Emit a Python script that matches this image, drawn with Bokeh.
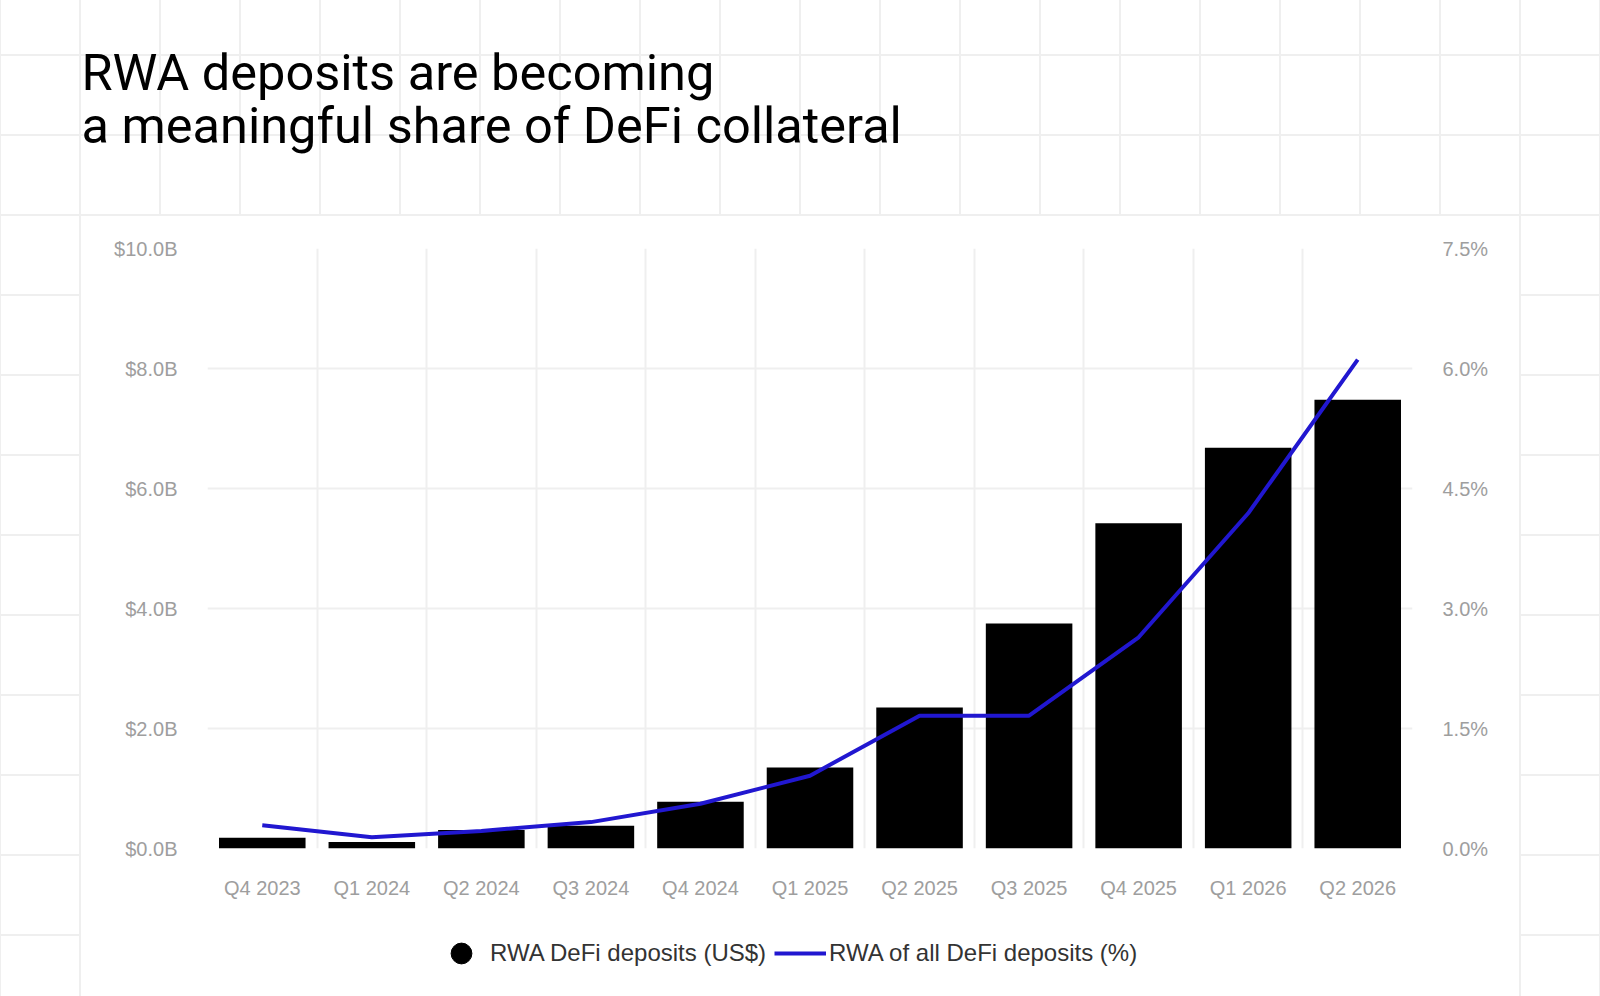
import numpy as np
from bokeh.plotting import figure
from bokeh.layouts import column
from bokeh.models import (Range1d, LinearAxis, FixedTicker, PrintfTickFormatter,
                          Legend, LegendItem)
from bokeh.core.properties import value
from bokeh.embed import file_html
from bokeh.resources import INLINE

# ---------------- data ----------------
quarters = ["Q4 2023", "Q1 2024", "Q2 2024", "Q3 2024", "Q4 2024", "Q1 2025",
            "Q2 2025", "Q3 2025", "Q4 2025", "Q1 2026", "Q2 2026"]
deposits_bn = [0.18, 0.11, 0.31, 0.38, 0.78, 1.35, 2.35, 3.75, 5.42, 6.68, 7.48]
share_pct = [0.29, 0.14, 0.22, 0.33, 0.56, 0.91, 1.66, 1.66, 2.64, 4.19, 6.11]
left_ticks = [0, 2, 4, 6, 8, 10]
right_ticks = [0, 1.5, 3, 4.5, 6, 7.5]
title_lines = ["RWA deposits are becoming", "a meaningful share of DeFi collateral"]
legend_labels = ["RWA DeFi deposits (US$)", "RWA of all DeFi deposits (%)"]

# ---------------- layout constants ----------------
W = 1600
HEAD_H, CHART_H, FOOT_H = 216, 688, 92
GRID = "#efefef"
BLUE = "#2117d0"
n = len(quarters)
xs = np.arange(n) + 0.5


def grid_bg(y_off, card):
    layers = []
    if card:
        layers.append("linear-gradient(#ffffff,#ffffff) 81px 0px / 1438px 100% no-repeat")
    layers.append("linear-gradient(to right, %s 2px, transparent 2px) 79px 0px / 80px 80px" % GRID)
    layers.append("linear-gradient(to bottom, %s 2px, transparent 2px) 0px %dpx / 80px 80px" % (GRID, y_off))
    return ", ".join(layers) + ", #ffffff"


def bare(fig):
    fig.border_fill_color = None
    fig.background_fill_color = None
    fig.outline_line_color = None


# ---------------- head (title) ----------------
head = figure(width=W, height=HEAD_H, output_backend="svg", toolbar_location=None,
              title=None, x_range=Range1d(0, W), y_range=Range1d(HEAD_H, 0),
              x_axis_location=None, y_axis_location=None, min_border=0)
head.frame_align = False
head.grid.visible = False
bare(head)
head.styles = {"background": grid_bg(54, False)}
head.text(x=[81, 81], y=[72, 125], text=title_lines,
          text_font=value("Roboto"), text_font_size=value("50.5px"),
          text_color="#000000", text_baseline=value("alphabetic"),
          text_align=value("left"))

# ---------------- chart ----------------
p = figure(width=W, height=CHART_H, output_backend="svg", toolbar_location=None,
           title=None, x_range=Range1d(0, n), y_range=Range1d(0, 10),
           min_border_left=207, min_border_right=188,
           min_border_top=32, min_border_bottom=56)
bare(p)
p.styles = {"background": grid_bg((54 - HEAD_H) % 80, True)}

p.vbar(x=xs, top=deposits_bn, width=0.79, fill_color="#000000", line_color=None)
p.extra_y_ranges = {"pct": Range1d(0, 7.5)}
p.line(x=xs, y=share_pct, y_range_name="pct", line_color=BLUE, line_width=4)

ax_r = LinearAxis(y_range_name="pct")
p.add_layout(ax_r, "right")

p.yaxis[0].ticker = FixedTicker(ticks=left_ticks)
p.yaxis[0].formatter = PrintfTickFormatter(format="$%.1fB")
ax_r.ticker = FixedTicker(ticks=right_ticks)
ax_r.formatter = PrintfTickFormatter(format="%.1f%%")
p.xaxis.ticker = FixedTicker(ticks=[float(v) for v in xs])
p.xaxis.major_label_overrides = {float(v): q for v, q in zip(xs, quarters)}

for ax in [p.xaxis[0], p.yaxis[0], ax_r]:
    ax.axis_line_color = None
    ax.major_tick_line_color = None
    ax.minor_tick_line_color = None
    ax.major_tick_out = 0
    ax.major_tick_in = 0
    ax.minor_tick_out = 0
    ax.major_label_text_font = "Liberation Sans"
    ax.major_label_text_font_size = "20px"
    ax.major_label_text_color = "#9e9e9e"
p.yaxis[0].major_label_standoff = 30
ax_r.major_label_standoff = 30
p.xaxis[0].major_label_standoff = 28

p.ygrid.ticker = FixedTicker(ticks=left_ticks)
p.ygrid.grid_line_color = GRID
p.ygrid.grid_line_width = 2
p.xgrid.ticker = FixedTicker(ticks=list(range(n + 1)))
p.xgrid.grid_line_color = GRID
p.xgrid.grid_line_width = 2

# ---------------- foot (legend) ----------------
foot = figure(width=W, height=FOOT_H, output_backend="svg", toolbar_location=None,
              title=None, x_range=Range1d(-3, -2), y_range=Range1d(0, 10),
              x_axis_location=None, y_axis_location=None, min_border=0)
foot.frame_align = False
foot.grid.visible = False
bare(foot)
foot.styles = {"background": grid_bg((54 - HEAD_H - CHART_H) % 80, True)}
# the series re-plotted outside the visible range: only their legend swatches show
dot = foot.scatter(x=xs, y=deposits_bn, marker="circle", size=22,
                   fill_color="#000000", line_color="#000000")
ln = foot.line(x=xs, y=share_pct, line_color=BLUE, line_width=4)
legend = Legend(items=[LegendItem(label=legend_labels[0], renderers=[dot]),
                       LegendItem(label=legend_labels[1], renderers=[ln])],
                orientation="horizontal", location=(435, 15),
                border_line_color=None, background_fill_alpha=0,
                label_text_font="Liberation Sans", label_text_font_size="24px",
                label_text_color="#333333", glyph_width=52, glyph_height=56,
                spacing=8, label_standoff=3, padding=0, margin=0)
foot.add_layout(legend, "center")

layout = column(head, p, foot, spacing=0)
open("out.html", "w").write(file_html(layout, INLINE))
